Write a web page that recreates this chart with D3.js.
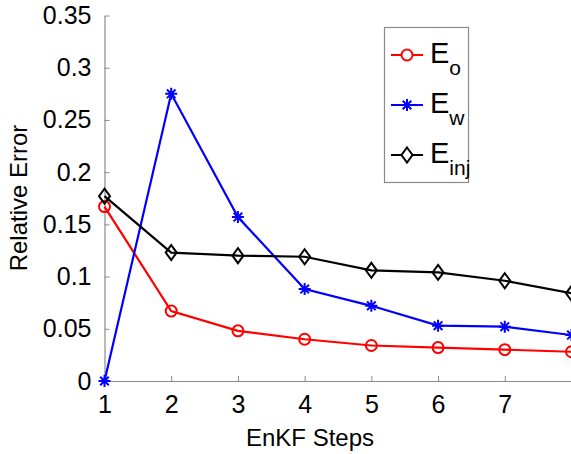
<!DOCTYPE html>
<html>
<head>
<meta charset="utf-8">
<script src="https://cdn.jsdelivr.net/npm/d3@7"></script>
<style>
  body { margin: 0; background: #fff; }
  svg { display: block; font-family: "Liberation Sans", Arial, sans-serif; }
</style>
</head>
<body>
<svg id="chart"></svg>
<script>
// EnKF relative errors per step
const steps = [1, 2, 3, 4, 5, 6, 7, 8];
const eo = [0.167, 0.067, 0.048, 0.040, 0.034, 0.032, 0.030, 0.028];
const ew = [0, 0.275, 0.157, 0.088, 0.072, 0.053, 0.052, 0.044];
const einj = [0.177, 0.123, 0.120, 0.119, 0.106, 0.104, 0.096, 0.084];
const xTicks = [1, 2, 3, 4, 5, 6, 7];
const yTicks = [0, 0.05, 0.1, 0.15, 0.2, 0.25, 0.3, 0.35];

const width = 571, height = 454;
const svg = d3.select("#chart").attr("width", width).attr("height", height);

const x = d3.scaleLinear().domain([1, 8]).range([104.5, 571.5]);
const y = d3.scaleLinear().domain([0, 0.35]).range([381, 15.5]);

// axes (ticks point inward, no box)
const xAxis = svg.append("g")
    .attr("transform", `translate(0,${y(0)})`)
    .call(d3.axisBottom(x).tickValues(xTicks).tickFormat(d3.format("d"))
        .tickSizeInner(-5).tickSizeOuter(0).tickPadding(14));

const yAxis = svg.append("g")
    .attr("transform", `translate(${x(1)},0)`)
    .call(d3.axisLeft(y).tickValues(yTicks).tickFormat(d => d === 0 ? "0" : String(d))
        .tickSizeInner(-5).tickSizeOuter(0).tickPadding(13));

[xAxis, yAxis].forEach(g => {
    g.select(".domain").attr("stroke", "#8a8a8a").attr("stroke-width", 1.2);
    g.selectAll(".tick line").attr("stroke", "#8a8a8a");
    g.selectAll(".tick text").attr("fill", "#000").style("font-size", "25px");
});

svg.append("text")
    .attr("x", 310).attr("y", 446)
    .attr("text-anchor", "middle")
    .style("font-size", "24px")
    .text("EnKF Steps");

svg.append("text")
    .attr("transform", "translate(27,198) rotate(-90)")
    .attr("text-anchor", "middle")
    .style("font-size", "24px")
    .text("Relative Error");

// marker shapes
const circlePath = "M5.5,0A5.5,5.5,0,1,1,-5.5,0A5.5,5.5,0,1,1,5.5,0Z";
const starPath = "M-6,0L6,0M0,-6L0,6M-4.3,-4.3L4.3,4.3M-4.3,4.3L4.3,-4.3";
const diamondPath = "M0,-7.5L5.5,0L0,7.5L-5.5,0Z";

const series = [
    { name: "o", values: eo, color: "#ff0000", marker: circlePath },
    { name: "w", values: ew, color: "#0000ff", marker: starPath },
    { name: "inj", values: einj, color: "#000000", marker: diamondPath }
];

const line = d3.line().x(d => x(d[0])).y(d => y(d[1]));

series.forEach(s => {
    const pts = steps.map((st, i) => [st, s.values[i]]);
    svg.append("path")
        .attr("d", line(pts))
        .attr("fill", "none")
        .attr("stroke", s.color)
        .attr("stroke-width", 2.2);
    svg.append("g").selectAll("path")
        .data(pts)
        .join("path")
        .attr("transform", d => `translate(${x(d[0])},${y(d[1])})`)
        .attr("d", s.marker)
        .attr("fill", "none")
        .attr("stroke", s.color)
        .attr("stroke-width", 2);
});

// legend
const legend = svg.append("g");
legend.append("rect")
    .attr("x", 384.5).attr("y", 27.5)
    .attr("width", 84).attr("height", 155)
    .attr("fill", "#fff")
    .attr("stroke", "#8a8a8a")
    .attr("stroke-width", 1.2);

const rowY = [55, 105, 155];
series.forEach((s, i) => {
    const ry = rowY[i];
    legend.append("line")
        .attr("x1", 391).attr("x2", 423)
        .attr("y1", ry).attr("y2", ry)
        .attr("stroke", s.color).attr("stroke-width", 2);
    legend.append("path")
        .attr("transform", `translate(407,${ry})`)
        .attr("d", s.marker)
        .attr("fill", "#fff")
        .attr("stroke", s.color).attr("stroke-width", 2);
    const t = legend.append("text")
        .attr("x", 430).attr("y", ry + 8)
        .style("font-size", "29px");
    t.append("tspan").text("E");
    t.append("tspan").attr("dy", 12).style("font-size", "21px").text(s.name);
});
</script>
</body>
</html>
